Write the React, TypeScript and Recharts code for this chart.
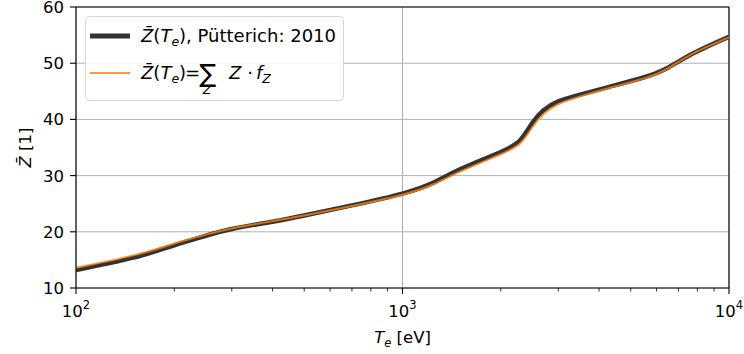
import { CartesianGrid, Line, LineChart, ReferenceLine, XAxis, YAxis } from "recharts";

// electron temperature grid [eV]
const temps = [100, 150, 200, 250, 300, 400, 500, 700, 1000, 1250, 1500, 2000, 2300, 2500, 2700, 3000, 3500, 4300, 5500, 6500, 7800, 10000];
// mean charge, Pütterich 2010 tabulation
const zPutterich = [13.2, 15.4, 17.6, 19.3, 20.5, 21.8, 22.9, 24.7, 26.8, 28.8, 31.1, 34.2, 36.4, 39.4, 41.6, 43.2, 44.4, 45.8, 47.5, 49.2, 51.8, 54.7];
// mean charge from the fractional abundances, sum Z * f_Z
const zSum = [13.6, 15.8, 17.9, 19.5, 20.6, 21.9, 22.9, 24.6, 26.6, 28.5, 30.7, 33.8, 35.8, 38.6, 40.9, 42.7, 44.1, 45.6, 47.3, 49.1, 51.8, 54.6];

const majorTicks = [100, 1000, 10000];
const minorTicks = [200, 300, 400, 500, 600, 700, 800, 900, 2000, 3000, 4000, 5000, 6000, 7000, 8000, 9000];
const yTicks = [10, 20, 30, 40, 50, 60];

const data = temps.map((t, i) => ({ t, putterich: zPutterich[i], sum: zSum[i] }));

const FONT = "DejaVu Sans";
const DARK = "#333333";
const ORANGE = "#ff7f0e";
const FS = 16.5;
const SUB = 12.5;

function LogTick(props: any) {
  const { x, y, payload } = props;
  const v = payload.value as number;
  const exp = Math.round(Math.log10(v));
  const major = Math.abs(Math.log10(v) - exp) < 1e-9;
  return (
    <g>
      <line x1={x} x2={x} y1={y} y2={y + (major ? 6 : 3.5)} stroke="#000" strokeWidth={major ? 1.1 : 0.8} />
      {major && (
        <text x={x} y={y + 29} textAnchor="middle" fontSize={FS} fontFamily={FONT} fill="#000">
          10
          <tspan dy={-8} fontSize={11.5}>{exp}</tspan>
        </text>
      )}
    </g>
  );
}

function ValueTick(props: any) {
  const { x, y, payload } = props;
  return (
    <g>
      <line x1={x - 6} x2={x} y1={y} y2={y} stroke="#000" strokeWidth={1.1} />
      <text x={x - 12} y={y} dy="0.36em" textAnchor="end" fontSize={FS} fontFamily={FONT} fill="#000">
        {payload.value}
      </text>
    </g>
  );
}

function XLabel({ viewBox }: any) {
  const { x, y, width } = viewBox;
  return (
    <text x={x + width / 2} y={y + 55} textAnchor="middle" fontSize={FS} fontFamily={FONT} fill="#000">
      <tspan fontStyle="italic">T</tspan>
      <tspan fontStyle="italic" fontSize={11.5} dy={4}>e</tspan>
      <tspan dy={-4}> [eV]</tspan>
    </text>
  );
}

function YLabel({ viewBox }: any) {
  const { y, height } = viewBox;
  const cx = 25;
  const cy = y + height / 2;
  return (
    <text x={cx} y={cy} transform={`rotate(-90 ${cx} ${cy})`} dy="0.36em" textAnchor="middle" fontSize={FS} fontFamily={FONT} fill="#000">
      <tspan fontStyle="italic">Z&#772;</tspan>
      <tspan> [1]</tspan>
    </text>
  );
}

// Z-bar(T_e) written as mathtext-like tspans
function ZofT() {
  return (
    <>
      <tspan fontStyle="italic">Z&#772;</tspan>
      <tspan>(</tspan>
      <tspan fontStyle="italic">T</tspan>
      <tspan fontStyle="italic" fontSize={SUB} dy={4}>e</tspan>
      <tspan dy={-4}>)</tspan>
    </>
  );
}

function LegendBox() {
  return (
    <svg width={744} height={354} style={{ position: "absolute", left: 0, top: 0, pointerEvents: "none" }}>
      <rect x={85.5} y={16.5} width={258} height={84} rx={4} fill="#fff" fillOpacity={0.85} stroke="#d5d5d5" />
      <g fontFamily={FONT} fontSize={18} fill="#000">
        <line x1={90} x2={130} y1={36} y2={36} stroke={DARK} strokeWidth={5} />
        <text x={141} y={42}>
          <ZofT />
          <tspan>, Pütterich: 2010</tspan>
        </text>

        <line x1={90} x2={130} y1={73} y2={73} stroke={ORANGE} strokeOpacity={0.8} strokeWidth={2} />
        <text x={141} y={79}>
          <ZofT />
        </text>
        <text x={185} y={79}>=</text>
        <text x={199.5} y={82} fontSize={25}>&#8721;</text>
        <text x={207} y={94} fontSize={SUB} fontStyle="italic" textAnchor="middle">Z</text>
        <text x={229} y={79} fontStyle="italic">Z</text>
        <text x={250} y={79} textAnchor="middle">&#183;</text>
        <text x={256} y={79}>
          <tspan fontStyle="italic">f</tspan>
          <tspan fontStyle="italic" fontSize={SUB} dy={4}>Z</tspan>
        </text>
      </g>
    </svg>
  );
}

export default function App() {
  return (
    <div style={{ position: "absolute", left: 0, top: 0, width: 744, height: 354, background: "#fff" }}>
      <LineChart width={744} height={354} data={data} margin={{ top: 7, right: 15, left: 0, bottom: 0 }}>
        <CartesianGrid stroke="#b0b0b0" strokeWidth={1} verticalValues={majorTicks} horizontalValues={yTicks} />
        <XAxis
          dataKey="t"
          type="number"
          scale="log"
          domain={[100, 10000]}
          ticks={[...majorTicks, ...minorTicks]}
          interval={0}
          tickLine={false}
          tickSize={0}
          tickMargin={0}
          tick={<LogTick />}
          axisLine={{ stroke: "#000", strokeWidth: 1.1 }}
          height={66}
          allowDataOverflow
          label={<XLabel />}
        />
        <YAxis
          type="number"
          domain={[10, 60]}
          ticks={yTicks}
          interval={0}
          tickLine={false}
          tickSize={0}
          tickMargin={0}
          tick={<ValueTick />}
          axisLine={{ stroke: "#000", strokeWidth: 1.1 }}
          width={76}
          label={<YLabel />}
        />
        <ReferenceLine y={60} stroke="#000" strokeWidth={1.1} />
        <ReferenceLine x={10000} stroke="#000" strokeWidth={1.1} />
        <Line type="natural" dataKey="putterich" stroke={DARK} strokeWidth={4.5} dot={false} isAnimationActive={false} />
        <Line type="natural" dataKey="sum" stroke={ORANGE} strokeOpacity={0.8} strokeWidth={2} dot={false} isAnimationActive={false} />
      </LineChart>
      <LegendBox />
    </div>
  );
}
